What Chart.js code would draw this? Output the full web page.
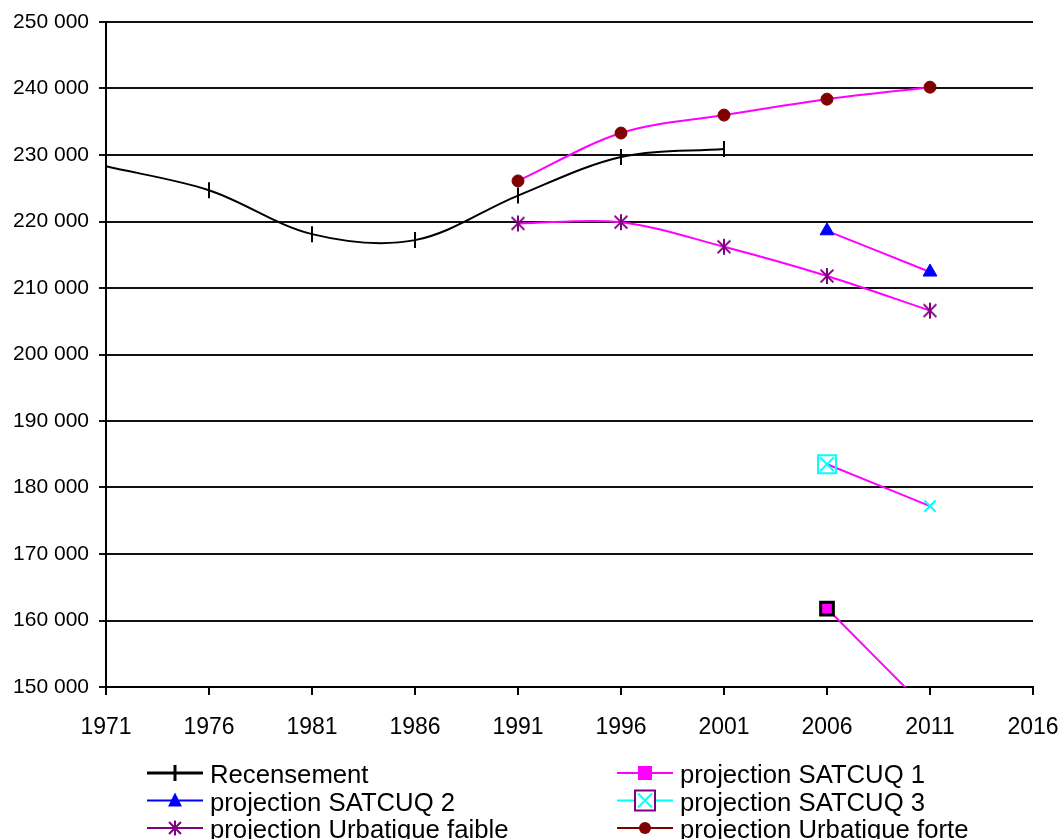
<!DOCTYPE html>
<html><head><meta charset="utf-8">
<script src="https://cdn.jsdelivr.net/npm/chart.js@4/dist/chart.umd.min.js"></script>
<style>html,body{margin:0;padding:0;background:#fff;overflow:hidden}</style>
</head><body>
<canvas id="c" width="1062" height="839"></canvas>
<script>
// ---- data ----
const censusYears = [1971, 1976, 1981, 1986, 1991, 1996, 2001];
const recensement = [228300, 224700, 218100, 217200, 223900, 229700, 230900];
const projYears = [1991, 1996, 2001, 2006, 2011];
const urbFaible = [219700, 219900, 216200, 211800, 206600];
const urbForte = [226100, 233300, 236000, 238400, 240200];
const satYears = [2006, 2011];
const satcuq1 = [161800, 146200];
const satcuq2 = [218600, 212400];
const satcuq3 = [183500, 177200];
const xTickLabels = ['1971','1976','1981','1986','1991','1996','2001','2006','2011','2016'];
const yTickLabels = ['150 000','160 000','170 000','180 000','190 000','200 000','210 000','220 000','230 000','240 000','250 000'];
const seriesNames = ['Recensement','projection SATCUQ 1','projection SATCUQ 2','projection SATCUQ 3','projection Urbatique faible','projection Urbatique forte'];

const FONT = '"Liberation Sans", Arial, sans-serif';
const MAGENTA = '#FF00FF', BLUE = '#0000FF', CYAN = '#00FFFF', PURPLE = '#800080', DRED = '#800000';

function pts(xs, ys) { return xs.map((x, i) => ({x: x, y: ys[i]})); }

function makeCanvas(w, h, draw) {
  const c = document.createElement('canvas'); c.width = w; c.height = h;
  draw(c.getContext('2d'), w, h); return c;
}
// asterisk marker: vertical bar + X
function drawStar(ctx, cx, cy, r, color) {
  ctx.save(); ctx.strokeStyle = color; ctx.lineWidth = 2; ctx.beginPath();
  ctx.moveTo(cx, cy - r); ctx.lineTo(cx, cy + r);
  const d = r * 0.8;
  ctx.moveTo(cx - d, cy - d); ctx.lineTo(cx + d, cy + d);
  ctx.moveTo(cx + d, cy - d); ctx.lineTo(cx - d, cy + d);
  ctx.stroke(); ctx.restore();
}
const starImg = makeCanvas(20, 20, (ctx) => drawStar(ctx, 10, 10, 8, PURPLE));
const boxXImg = makeCanvas(24, 24, (ctx) => {
  ctx.strokeStyle = CYAN; ctx.lineWidth = 2;
  ctx.strokeRect(3, 3, 18, 18);
  ctx.beginPath(); ctx.moveTo(5, 5); ctx.lineTo(19, 19); ctx.moveTo(19, 5); ctx.lineTo(5, 19); ctx.stroke();
});

const projLine = {borderColor: MAGENTA, borderWidth: 2, tension: 0.333, fill: false};

const datasets = [
  Object.assign({}, projLine, {
    label: seriesNames[4], data: pts(projYears, urbFaible),
    pointStyle: starImg, pointRadius: 8, clip: false
  }),
  Object.assign({}, projLine, {
    label: seriesNames[5], data: pts(projYears, urbForte),
    pointStyle: 'circle', pointRadius: 6, pointBackgroundColor: DRED, pointBorderColor: DRED, pointBorderWidth: 1, clip: false
  }),
  Object.assign({}, projLine, {
    label: seriesNames[2], data: pts(satYears, satcuq2),
    pointStyle: 'triangle', pointRadius: 8, pointBackgroundColor: BLUE, pointBorderColor: BLUE, pointBorderWidth: 1, clip: false
  }),
  Object.assign({}, projLine, {
    label: seriesNames[3], data: pts(satYears, satcuq3),
    pointStyle: [boxXImg, 'crossRot'], pointRadius: 8, pointBorderColor: CYAN, pointBorderWidth: 2, clip: false
  }),
  Object.assign({}, projLine, {
    label: seriesNames[1], data: pts(satYears, satcuq1),
    pointStyle: 'rect', pointRadius: 9, pointBackgroundColor: MAGENTA, pointBorderColor: '#000', pointBorderWidth: 3, clip: 0
  }),
  {
    label: seriesNames[0], data: pts(censusYears, recensement),
    borderColor: '#000', borderWidth: 2, tension: 0.333, fill: false,
    pointStyle: 'line', pointRotation: 90, pointRadius: 8, pointBorderColor: '#000', pointBorderWidth: 2, clip: false
  }
];

// custom legend (two columns, three rows) drawn like the original
const legendItems = [
  {name: seriesNames[0], col: 0, row: 0, color: '#000', lw: 3, marker: 'plus'},
  {name: seriesNames[1], col: 1, row: 0, color: MAGENTA, lw: 2, marker: 'square'},
  {name: seriesNames[2], col: 0, row: 1, color: BLUE, lw: 2, marker: 'triangle'},
  {name: seriesNames[3], col: 1, row: 1, color: CYAN, lw: 2, marker: 'boxx'},
  {name: seriesNames[4], col: 0, row: 2, color: PURPLE, lw: 2, marker: 'star'},
  {name: seriesNames[5], col: 1, row: 2, color: DRED, lw: 2, marker: 'circle'}
];
const legendPlugin = {
  id: 'customLegend',
  afterDraw(chart) {
    const ctx = chart.ctx;
    const colX = [[147, 203, 210], [617, 673, 680]];
    const rowY = [773, 800.5, 828];
    ctx.save();
    legendItems.forEach(it => {
      const [x0, x1, tx] = colX[it.col];
      const y = rowY[it.row];
      const cx = (x0 + x1) / 2;
      ctx.strokeStyle = it.color; ctx.lineWidth = it.lw;
      ctx.beginPath(); ctx.moveTo(x0, y); ctx.lineTo(x1, y); ctx.stroke();
      ctx.fillStyle = it.color;
      if (it.marker === 'plus') {
        ctx.lineWidth = 3; ctx.beginPath(); ctx.moveTo(cx, y - 8); ctx.lineTo(cx, y + 8); ctx.stroke();
      } else if (it.marker === 'square') {
        ctx.fillRect(cx - 7, y - 7, 14, 14);
      } else if (it.marker === 'triangle') {
        ctx.beginPath(); ctx.moveTo(cx, y - 8); ctx.lineTo(cx + 7, y + 6); ctx.lineTo(cx - 7, y + 6); ctx.closePath(); ctx.fill();
      } else if (it.marker === 'boxx') {
        ctx.fillStyle = '#fff'; ctx.fillRect(cx - 10, y - 10, 20, 20);
        ctx.strokeStyle = CYAN; ctx.lineWidth = 2; ctx.beginPath();
        ctx.moveTo(cx - 7, y - 7); ctx.lineTo(cx + 7, y + 7); ctx.moveTo(cx + 7, y - 7); ctx.lineTo(cx - 7, y + 7); ctx.stroke();
        ctx.strokeStyle = PURPLE; ctx.lineWidth = 2; ctx.strokeRect(cx - 10, y - 10, 20, 20);
      } else if (it.marker === 'star') {
        drawStar(ctx, cx, y, 7.5, PURPLE);
      } else if (it.marker === 'circle') {
        ctx.beginPath(); ctx.arc(cx, y, 6, 0, Math.PI * 2); ctx.fill();
      }
      ctx.fillStyle = '#000';
      ctx.font = '25.7px ' + FONT;
      ctx.textBaseline = 'alphabetic'; ctx.textAlign = 'left';
      ctx.fillText(it.name, tx, y + 10);
    });
    ctx.restore();
  }
};

new Chart(document.getElementById('c'), {
  type: 'line',
  data: {datasets: datasets},
  plugins: [legendPlugin],
  options: {
    responsive: false,
    animation: false,
    events: [],
    layout: {padding: {left: 0, right: 29, top: 22, bottom: 92}},
    plugins: {legend: {display: false}, tooltip: {enabled: false}},
    scales: {
      x: {
        type: 'linear', min: 1971, max: 2016,
        afterFit(s) { s.height = 60; s.paddingLeft = 0; s.paddingRight = 0; },
        afterBuildTicks(s) { s.ticks = xTickLabels.map((t, i) => ({value: 1971 + 5 * i})); },
        ticks: {
          autoSkip: false, maxRotation: 0, padding: 19, color: '#000',
          font: {family: FONT, size: 23},
          callback: (v) => xTickLabels[Math.round((v - 1971) / 5)]
        },
        grid: {display: true, drawOnChartArea: false, drawTicks: true, tickLength: 8, color: '#000', lineWidth: 2},
        border: {display: true, color: '#000', width: 2}
      },
      y: {
        type: 'linear', min: 150000, max: 250000,
        afterFit(s) { s.width = 106; s.paddingTop = 0; s.paddingBottom = 0; },
        afterBuildTicks(s) { s.ticks = yTickLabels.map((t, i) => ({value: 150000 + 10000 * i})); },
        ticks: {
          padding: 10, color: '#000',
          font: {family: FONT, size: 21},
          callback: (v) => yTickLabels[Math.round((v - 150000) / 10000)]
        },
        grid: {display: true, drawOnChartArea: true, drawTicks: true, tickLength: 7, color: '#111', lineWidth: 2},
        border: {display: true, color: '#000', width: 2}
      }
    }
  }
});
</script>
</body></html>
